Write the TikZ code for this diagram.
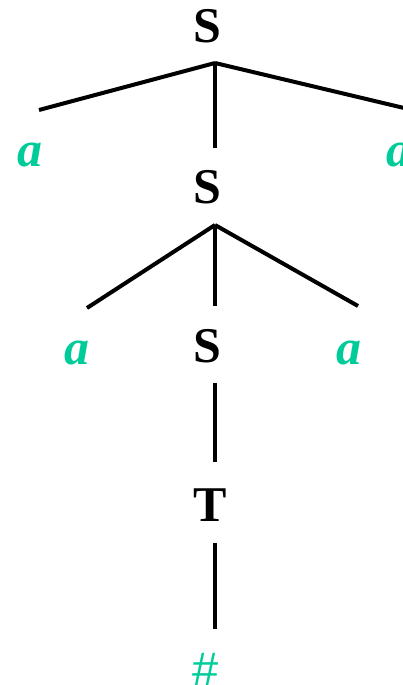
\documentclass[tikz,border=0pt]{standalone}
\usepackage{fontspec}
\setmainfont{Liberation Serif}
\newfontfamily\hashfont{Liberation Sans}
\definecolor{termgreen}{RGB}{0,204,153}
\begin{document}
\begin{tikzpicture}[x=1pt,y=1pt,
  nonterm/.style={anchor=base,inner sep=0pt,font=\fontsize{50}{60}\selectfont\bfseries},
  term/.style={anchor=base,inner sep=0pt,text=termgreen,font=\fontsize{50}{60}\selectfont\bfseries\itshape},
  edge/.style={line width=4pt}]
\useasboundingbox (0,0) rectangle (402,685);
% nodes
\node[nonterm] (s1) at (207,642) {S};
\node[term] (a1) at (30,518) {a};
\node[term] (a2) at (399,518) {a};
\node[nonterm] (s2) at (207,481) {S};
\node[term] (a3) at (77,320) {a};
\node[nonterm] (s3) at (207,322) {S};
\node[term] (a4) at (349,320) {a};
\node[nonterm] (t) at (210,163) {T};
\node[anchor=base,inner sep=0pt,text=termgreen,font=\fontsize{47}{56}\selectfont\hashfont] (h) at (206,0) {\#};
% connector points
\coordinate (j1) at (215,622);
\coordinate (e1l) at (39,575);
\coordinate (e1r) at (404,577);
\coordinate (e1m) at (215,537);
\coordinate (j2) at (215,460);
\coordinate (e2l) at (87,377);
\coordinate (e2r) at (358,379);
\coordinate (e2m) at (215,379);
\coordinate (j3) at (215,302);
\coordinate (e3) at (215,223);
\coordinate (j4) at (215,142);
\coordinate (e4) at (215,56);
% connectors
\draw[edge] (j1) -- (e1l);
\draw[edge] (j1) -- (e1r);
\draw[edge] (j1) -- (e1m);
\draw[edge] (j2) -- (e2l);
\draw[edge] (j2) -- (e2r);
\draw[edge] (j2) -- (e2m);
\draw[edge] (j3) -- (e3);
\draw[edge] (j4) -- (e4);
\end{tikzpicture}
\end{document}
